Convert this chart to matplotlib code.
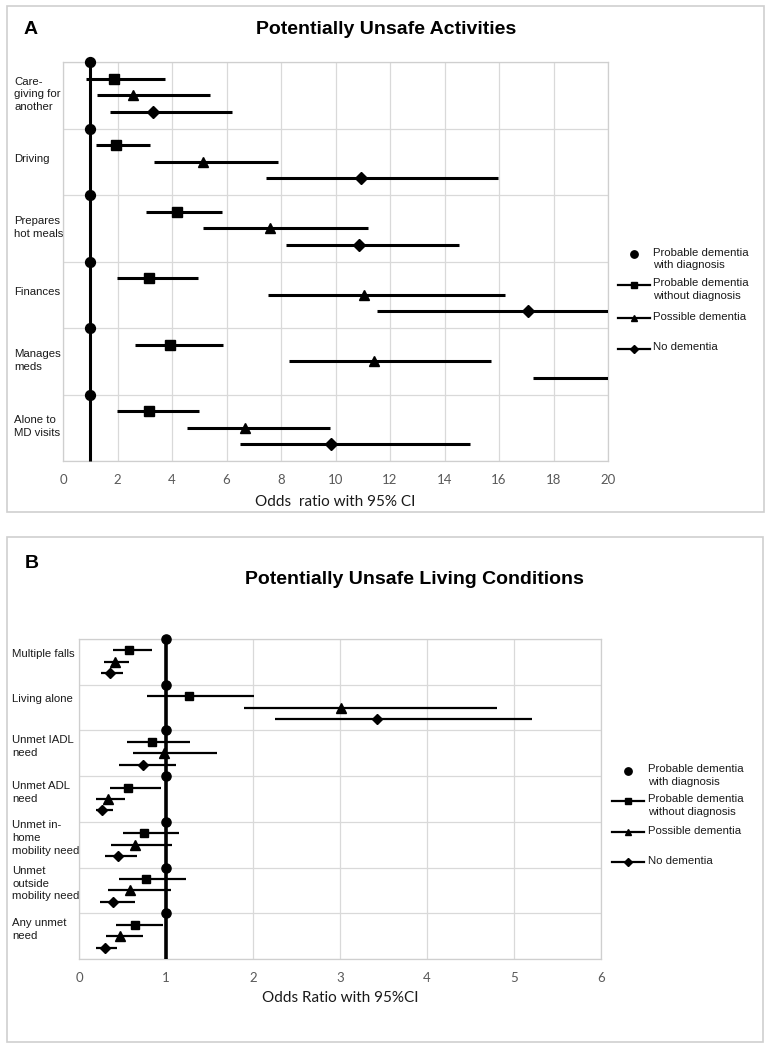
import matplotlib
matplotlib.use("Agg")
import matplotlib.pyplot as plt
import numpy as np
from matplotlib.lines import Line2D
from matplotlib.patches import Rectangle

plt.rcParams["font.family"] = ["Liberation Sans", "DejaVu Sans"]

# ---------------- Data: panel A ----------------
cats_a = ["Care-\ngiving for\nanother", "Driving", "Prepares\nhot meals",
          "Finances", "Manages\nmeds", "Alone to\nMD visits"]
ref_a = [1, 1, 1, 1, 1, 1]
sq_a = [1.86, 1.94, 4.18, 3.16, 3.93, 3.16]
sq_lo_a = [0.84, 1.21, 3.03, 1.99, 2.63, 1.97]
sq_hi_a = [3.74, 3.20, 5.82, 4.94, 5.87, 4.99]
tri_a = [2.58, 5.15, 7.60, 11.06, 11.40, 6.67]
tri_lo_a = [1.24, 3.35, 5.15, 7.53, 8.28, 4.55]
tri_hi_a = [5.39, 7.88, 11.19, 16.21, 15.70, 9.79]
dia_a = [3.29, 10.95, 10.85, 17.05, 23.5, 9.83]
dia_lo_a = [1.72, 7.44, 8.17, 11.51, 17.24, 6.51]
dia_hi_a = [6.21, 15.97, 14.53, 24.0, 32.0, 14.94]

# ---------------- Data: panel B ----------------
cats_b = ["Multiple falls", "Living alone", "Unmet IADL\nneed", "Unmet ADL\nneed",
          "Unmet in-\nhome\nmobility need", "Unmet\noutside\nmobility need",
          "Any unmet\nneed"]
ref_b = [1, 1, 1, 1, 1, 1, 1]
sq_b = [0.57, 1.27, 0.84, 0.56, 0.75, 0.77, 0.64]
sq_lo_b = [0.39, 0.78, 0.55, 0.36, 0.50, 0.46, 0.43]
sq_hi_b = [0.84, 2.01, 1.28, 0.94, 1.15, 1.23, 0.96]
tri_b = [0.41, 3.01, 0.98, 0.33, 0.64, 0.59, 0.47]
tri_lo_b = [0.29, 1.90, 0.62, 0.20, 0.37, 0.33, 0.31]
tri_hi_b = [0.58, 4.81, 1.59, 0.53, 1.07, 1.06, 0.73]
dia_b = [0.36, 3.42, 0.73, 0.27, 0.45, 0.39, 0.30]
dia_lo_b = [0.25, 2.25, 0.46, 0.19, 0.30, 0.24, 0.20]
dia_hi_b = [0.50, 5.21, 1.12, 0.39, 0.67, 0.64, 0.44]

legend_labels = ["Probable dementia\nwith diagnosis",
                 "Probable dementia\nwithout diagnosis",
                 "Possible dementia", "No dementia"]

W, H = 772, 1050
fig = plt.figure(figsize=(W / 100, H / 100), dpi=100)

GRID = "#d9d9d9"


def fx(px):
    return px / W


def fy(py):
    return 1 - py / H


def make_axes(l, t, r, b):
    return fig.add_axes([fx(l), fy(b), fx(r) - fx(l), (b - t) / H])


def panel(ax, cats, ref, sq, sq_lo, sq_hi, tri, tri_lo, tri_hi, dia, dia_lo, dia_hi,
          xmax, xstep, elw, ms, vlw, label_off, label_pad):
    n = len(cats)
    y = np.arange(n)
    ax.set_xlim(0, xmax)
    ax.set_ylim(n, 0)
    ax.set_axisbelow(True)
    ax.set_xticks(np.arange(0, xmax + 0.001, xstep))
    ax.set_yticks(np.arange(n + 1), minor=True)
    ax.set_yticks(y + label_off)
    ax.set_yticklabels(cats, fontsize=8.2, linespacing=1.35, color="#1a1a1a")
    for t in ax.get_yticklabels():
        t.set_ha("left")
    ax.tick_params(axis="y", which="both", length=0, pad=label_pad)
    ax.tick_params(axis="x", length=0, pad=9, labelsize=9.5, labelcolor="#595959")
    for t in ax.get_xticklabels():
        t.set_family(["Lato", "DejaVu Sans"])
    ax.grid(True, which="major", axis="x", color=GRID, lw=0.9)
    ax.grid(True, which="minor", axis="y", color=GRID, lw=0.9)
    ax.grid(False, which="major", axis="y")
    for s in ax.spines.values():
        s.set_color("#cfcfcf")
        s.set_linewidth(0.9)

    refv = np.asarray(ref, float)
    # vertical reference line through the reference-group points
    ax.plot(np.r_[refv, refv[-1]], np.arange(n + 1), color="black", lw=vlw,
            solid_capstyle="butt", clip_on=False, zorder=3)
    ax.plot(refv, y, "o", color="black", ms=ms + 0.6, clip_on=False, zorder=4)

    for vals, lo, hi, mk, off, msz in [
        (sq, sq_lo, sq_hi, "s", 0.25, ms),
        (tri, tri_lo, tri_hi, "^", 0.5, ms + 0.5),
        (dia, dia_lo, dia_hi, "D", 0.75, ms - 0.5),
    ]:
        v = np.asarray(vals, float)
        err = [v - np.asarray(lo, float), np.asarray(hi, float) - v]
        ax.errorbar(v, y + off, xerr=err, fmt=mk, color="black", ms=msz,
                    elinewidth=elw, capsize=0, zorder=3)


def legend(mx, tx, line_half, ys, msz=4.5):
    markers = ["o", "s", "^", "D"]
    for i, (lab, yy) in enumerate(zip(legend_labels, ys)):
        if i > 0:
            fig.add_artist(Line2D([fx(mx - line_half), fx(mx + line_half)],
                                  [fy(yy), fy(yy)], color="black", lw=1.6,
                                  transform=fig.transFigure))
        m = markers[i]
        s = msz + (0.8 if m == "o" else 0) - (0.8 if m == "D" else 0)
        fig.add_artist(Line2D([fx(mx)], [fy(yy)], marker=m, color="black",
                              ms=s, lw=0, transform=fig.transFigure))
        fig.text(fx(tx), fy(yy - 6.5), lab, ha="left", va="top", fontsize=8.2,
                 linespacing=1.3, color="#1a1a1a")


# outer frames
for (l, t, r, b) in [(7, 6, 764, 512), (7, 537, 763, 1042)]:
    fig.add_artist(Rectangle((fx(l), fy(b)), fx(r) - fx(l), (b - t) / H,
                             transform=fig.transFigure, fill=False,
                             ec="#cfcfcf", lw=1.2))

# ---------------- Panel A ----------------
axA = make_axes(63, 62, 608, 461)
panel(axA, cats_a, ref_a, sq_a, sq_lo_a, sq_hi_a, tri_a, tri_lo_a, tri_hi_a,
      dia_a, dia_lo_a, dia_hi_a, xmax=20, xstep=2, elw=2.2, ms=6.5, vlw=2.2,
      label_off=0.45, label_pad=35)
fig.text(fx(335), fy(502), "Odds  ratio with 95% CI", ha="center", va="center",
         fontsize=11, family=["Lato", "DejaVu Sans"], color="#1a1a1a")
fig.text(fx(386), fy(30), "Potentially Unsafe Activities", ha="center",
         va="center", fontsize=14, fontweight="bold")
fig.text(fx(24), fy(29), "A", ha="left", va="center", fontsize=14,
         fontweight="bold")
legend(634, 653, 16, [254, 285, 318, 349])

# ---------------- Panel B ----------------
axB = make_axes(79, 639, 601, 959)
panel(axB, cats_b, ref_b, sq_b, sq_lo_b, sq_hi_b, tri_b, tri_lo_b, tri_hi_b,
      dia_b, dia_lo_b, dia_hi_b, xmax=6, xstep=1, elw=1.6, ms=6, vlw=2.6,
      label_off=0.3, label_pad=48)
fig.text(fx(340), fy(998), "Odds Ratio with 95%CI", ha="center", va="center",
         fontsize=11, family=["Lato", "DejaVu Sans"], color="#1a1a1a")
fig.text(fx(414), fy(580), "Potentially Unsafe Living Conditions", ha="center",
         va="center", fontsize=14, fontweight="bold")
fig.text(fx(25), fy(563), "B", ha="left", va="center", fontsize=14,
         fontweight="bold")
legend(628, 648, 16, [771, 801, 832, 862])

fig.savefig("out.png", dpi=100)
